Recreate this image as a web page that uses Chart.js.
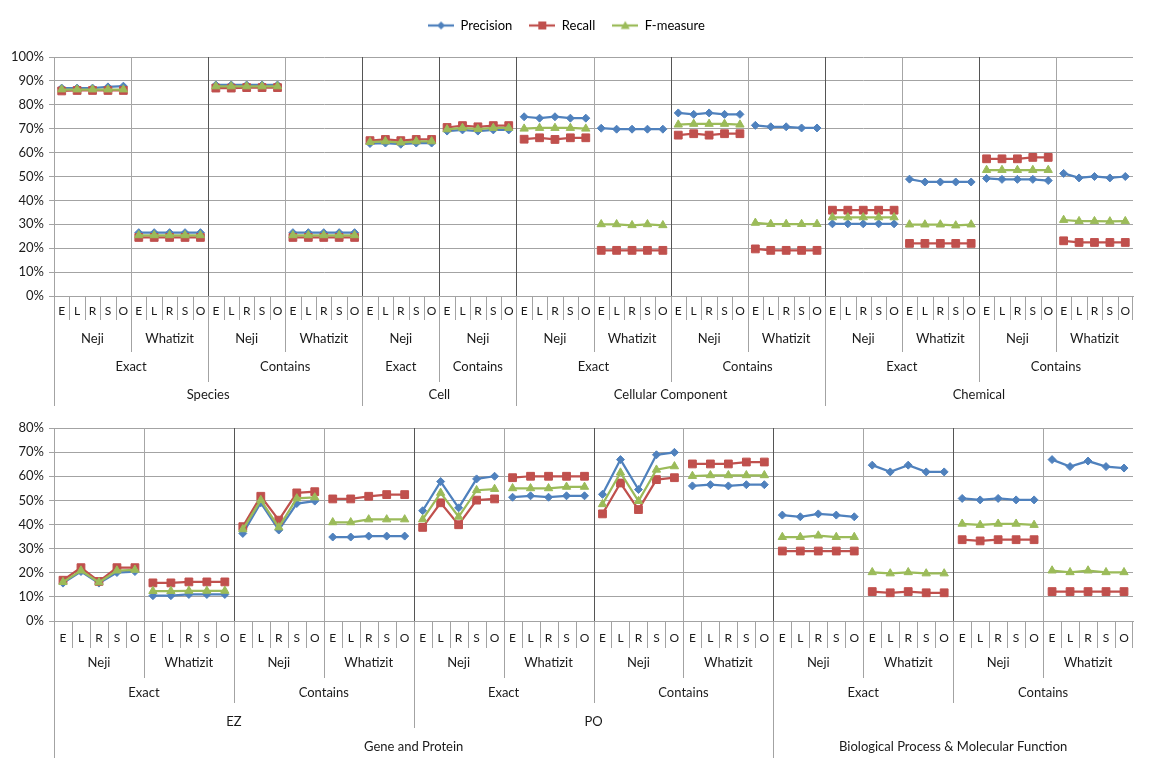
<!DOCTYPE html>
<html lang="en">
<head>
<meta charset="UTF-8">
<title>Neji vs Whatizit - Precision / Recall / F-measure</title>
<script src="https://cdn.jsdelivr.net/npm/chart.js"></script>
<style>
    body { margin: 0; background: #fff; }
    #wrap { position: relative; width: 1151px; height: 762px; }
    #wrap canvas { position: absolute; left: 0; }
    #topChart { top: 0; }
    #bottomChart { top: 410px; }
</style>
</head>
<body>
<div id="wrap">
    <canvas id="topChart" width="1151" height="410"></canvas>
    <canvas id="bottomChart" width="1151" height="352"></canvas>
</div>

<script>
    // category letters, repeated inside every group of five
    const letters = ['E', 'L', 'R', 'S', 'O'];

    // ---- top panel: 14 groups of 5 ----
    const topTools = ['Neji', 'Whatizit', 'Neji', 'Whatizit', 'Neji', 'Neji', 'Neji', 'Whatizit',
                      'Neji', 'Whatizit', 'Neji', 'Whatizit', 'Neji', 'Whatizit'];
    const topMatching = ['Exact', 'Contains', 'Exact', 'Contains', 'Exact', 'Contains', 'Exact', 'Contains'];
    const topMatchingGroups = [2, 2, 1, 1, 2, 2, 2, 2];
    const topEntity = ['Species', 'Cell', 'Cellular Component', 'Chemical'];
    const topEntityGroups = [4, 2, 4, 4];
    const topTicks = [0, 10, 20, 30, 40, 50, 60, 70, 80, 90, 100];

    const topPrecision = [
        87, 87, 87, 87.5, 87.8,        26.5, 26.5, 26.5, 26.5, 26.5,   // Species exact
        88.3, 88.3, 88.3, 88.3, 88.3,  26.5, 26.5, 26.5, 26.5, 26.5,   // Species contains
        63.8, 64, 63.5, 64, 64,        69, 69.5, 69, 69.5, 69.5,       // Cell
        75, 74.4, 75, 74.4, 74.4,      70.2, 69.8, 69.8, 69.8, 69.8,   // Cellular Component exact
        76.6, 76, 76.6, 76, 76,        71.4, 70.8, 70.8, 70.3, 70.3,   // Cellular Component contains
        30.2, 30.2, 30.2, 30.2, 30.2,  48.9, 47.7, 47.7, 47.7, 47.7,   // Chemical exact
        49.2, 48.8, 48.8, 48.8, 48.3,  51.3, 49.4, 50, 49.4, 50        // Chemical contains
    ];
    const topRecall = [
        85.8, 86, 86, 86, 86,          24.5, 24.5, 24.5, 24.5, 24.5,
        87, 87, 87.2, 87.2, 87.2,      24.5, 24.5, 24.5, 24.5, 24.5,
        65, 65.5, 65, 65.5, 65.5,      70.5, 71.3, 70.8, 71.3, 71.3,
        65.6, 66.2, 65.5, 66.2, 66.2,  19.1, 19.1, 19.1, 19.1, 19.1,
        67.3, 67.9, 67.3, 67.9, 67.9,  19.7, 19.1, 19.1, 19.1, 19.1,
        35.9, 35.9, 35.9, 35.9, 35.9,  22, 22, 22, 22, 22,
        57.4, 57.4, 57.4, 58, 58,      23.1, 22.4, 22.4, 22.4, 22.4
    ];
    const topFmeasure = [
        86.4, 86.4, 86.4, 86.4, 86.4,  25.4, 25.4, 25.4, 25.4, 25.4,
        87.7, 87.7, 87.7, 87.7, 87.7,  25.4, 25.4, 25.4, 25.4, 25.4,
        64.4, 64.7, 64.2, 64.7, 64.7,  69.7, 70.3, 69.8, 70.3, 70.3,
        70, 70.3, 70.3, 70.3, 70,      30, 30, 29.6, 30, 29.6,
        71.7, 72, 72, 72, 71.7,        30.6, 30.1, 30.1, 30.1, 30.1,
        32.9, 32.9, 32.9, 32.9, 32.9,  29.9, 29.9, 29.9, 29.5, 29.9,
        52.7, 52.7, 52.7, 52.7, 52.7,  31.8, 31.3, 31.3, 31.2, 31.3
    ];

    // ---- bottom panel: 12 groups of 5 ----
    const bottomTools = ['Neji', 'Whatizit', 'Neji', 'Whatizit', 'Neji', 'Whatizit',
                         'Neji', 'Whatizit', 'Neji', 'Whatizit', 'Neji', 'Whatizit'];
    const bottomMatching = ['Exact', 'Contains', 'Exact', 'Contains', 'Exact', 'Contains'];
    const bottomMatchingGroups = [2, 2, 2, 2, 2, 2];
    const bottomSource = ['EZ', 'PO', ''];
    const bottomSourceGroups = [4, 4, 4];
    const bottomEntity = ['Gene and Protein', 'Biological Process & Molecular Function'];
    const bottomEntityGroups = [8, 4];
    const bottomTicks = [0, 10, 20, 30, 40, 50, 60, 70, 80];

    const bottomPrecision = [
        15.7, 20.5, 15.7, 20.1, 20.5,  10.5, 10.5, 11, 11, 11,         // EZ exact
        36.3, 49, 37.7, 48.7, 49.7,    34.8, 34.8, 35.2, 35.2, 35.2,   // EZ contains
        45.7, 57.8, 46.9, 58.9, 60,    51.3, 51.9, 51.3, 51.9, 51.9,   // PO exact
        52.5, 66.9, 54.5, 68.9, 69.9,  56, 56.5, 56, 56.5, 56.5,       // PO contains
        43.9, 43.2, 44.4, 43.9, 43.2,  64.6, 61.8, 64.6, 61.8, 61.8,   // BP & MF exact
        50.8, 50.2, 50.8, 50.2, 50.2,  66.9, 64, 66.3, 64, 63.4        // BP & MF contains
    ];
    const bottomRecall = [
        16.9, 22.1, 16.4, 22.1, 22.1,  15.8, 15.8, 16.2, 16.2, 16.2,
        39.1, 51.7, 41.8, 53.1, 53.6,  50.6, 50.6, 51.7, 52.4, 52.4,
        38.8, 49, 39.9, 50.1, 50.6,    59.4, 60, 60, 60, 60,
        44.4, 57.2, 46.2, 58.6, 59.4,  65.1, 65.1, 65.1, 65.9, 65.9,
        29, 29, 29, 29, 29,            12.2, 11.7, 12.2, 11.7, 11.7,
        33.7, 33.2, 33.7, 33.7, 33.7,  12.2, 12.2, 12.2, 12.2, 12.2
    ];
    const bottomFmeasure = [
        16.1, 20.9, 16, 20.9, 21.2,    12.4, 12.4, 12.5, 12.5, 12.5,
        38, 50.1, 38.8, 50.8, 51.2,    40.9, 40.9, 42.1, 42.1, 42.1,
        42.1, 53.1, 43.2, 54.2, 54.7,  55, 55, 55, 55.6, 55.6,
        48.4, 61.5, 49.7, 62.7, 64.1,  60.1, 60.4, 60.4, 60.4, 60.4,
        34.8, 34.8, 35.4, 34.8, 34.8,  20.2, 19.7, 20.2, 19.7, 19.7,
        40.3, 39.8, 40.3, 40.3, 39.8,  20.9, 20.2, 20.9, 20.2, 20.2
    ];

    const seriesNames = ['Precision', 'Recall', 'F-measure'];

    const BLUE = '#4f81bd';
    const RED = '#c0504d';
    const GREEN = '#9bbb59';
    const FONT = 'Lato, "Liberation Sans", Arial, sans-serif';
    const TEXT = '#1a1a1a';
    const GRID = '#a3a3a3';

    // build label spans (in category indexes) for the multi-level axis
    function letterItems(n) {
        const out = [];
        for (let i = 0; i < n; i++) out.push({ text: letters[i % 5], from: i, to: i + 1 });
        return out;
    }
    function spanItems(names, groups) {
        const out = [];
        let pos = 0;
        names.forEach((t, i) => {
            const n = (groups ? groups[i] : 1) * 5;
            out.push({ text: t, from: pos, to: pos + n });
            pos += n;
        });
        return out;
    }

    // small line+marker pictures for the legend
    function legendIcon(color, style) {
        const c = document.createElement('canvas');
        c.width = 26; c.height = 12;
        const g = c.getContext('2d');
        g.strokeStyle = color; g.fillStyle = color; g.lineWidth = 2.25;
        g.beginPath(); g.moveTo(0, 6); g.lineTo(26, 6); g.stroke();
        g.beginPath();
        if (style === 'rectRot') {
            g.moveTo(13, 2); g.lineTo(17, 6); g.lineTo(13, 10); g.lineTo(9, 6);
        } else if (style === 'rect') {
            g.rect(9, 2, 8, 8);
        } else {
            g.moveTo(13, 1.5); g.lineTo(17.5, 9.5); g.lineTo(8.5, 9.5);
        }
        g.closePath(); g.fill();
        return c;
    }

    function series(label, data, color, style, radius, order) {
        return {
            label: label,
            data: data,
            order: order,
            borderColor: color,
            backgroundColor: color,
            borderWidth: 2.25,
            pointStyle: style,
            pointRadius: radius,
            pointHoverRadius: radius,
            pointBorderWidth: 1,
            tension: 0,
            // no line between two neighbouring groups
            segment: { borderColor: c => (c.p0DataIndex % 5 === 4 ? 'rgba(0,0,0,0)' : undefined) }
        };
    }

    function edgeX(chart, i) {
        const x = chart.scales.x;
        const step = x.getPixelForValue(1) - x.getPixelForValue(0);
        return x.getPixelForValue(i) - step / 2;
    }
    function vline(ctx, x, y1, y2, color) {
        const px = Math.round(x) + 0.5;
        ctx.strokeStyle = color;
        ctx.lineWidth = 1;
        ctx.beginPath(); ctx.moveTo(px, y1); ctx.lineTo(px, y2); ctx.stroke();
    }

    // multi-level category axis: group lines in the plot and the label rows below it
    const hierarchyAxis = {
        id: 'hierarchyAxis',
        beforeDatasetsDraw(chart, args, opts) {
            const ctx = chart.ctx;
            const { top, bottom } = chart.chartArea;
            ctx.save();
            opts.levels.forEach((lv, k) => {
                if (k === 0) return;
                lv.items.forEach(it => {
                    if (it.from === 0) return;
                    vline(ctx, edgeX(chart, it.from), top, bottom, k === 1 ? '#a6a6a6' : '#555555');
                });
            });
            ctx.restore();
        },
        afterDraw(chart, args, opts) {
            const ctx = chart.ctx;
            const { left, right, bottom } = chart.chartArea;
            const n = chart.scales.x.getLabels().length;
            ctx.save();
            const last = opts.levels[opts.levels.length - 1];
            vline(ctx, left, bottom, bottom + last.sepDy, GRID);
            vline(ctx, right - 1, bottom, bottom + opts.levels[0].sepDy, GRID);
            opts.levels.forEach((lv, k) => {
                ctx.font = (k === 0 ? '12px ' : '13px ') + FONT;
                ctx.fillStyle = TEXT;
                ctx.textAlign = 'center';
                ctx.textBaseline = 'middle';
                lv.items.forEach(it => {
                    if (it.from > 0 && it.from < n) vline(ctx, edgeX(chart, it.from), bottom, bottom + lv.sepDy, GRID);
                    if (it.text) {
                        const cx = (edgeX(chart, it.from) + edgeX(chart, it.to)) / 2;
                        ctx.fillText(it.text, cx, bottom + lv.textDy);
                    }
                });
            });
            ctx.restore();
        }
    };

    // legend needs a fixed height so the plot starts where the original does
    const legendSpace = {
        id: 'legendSpace',
        beforeInit(chart) {
            if (!chart.legend || !chart.options.plugins.legend.display) return;
            const fit = chart.legend.fit;
            chart.legend.fit = function () {
                fit.bind(chart.legend)();
                this.height = 55;
            };
        }
    };

    function makeChart(id, labelsCount, p, r, f, yTicks, levels, showLegend, padding) {
        const icons = [legendIcon(BLUE, 'rectRot'), legendIcon(RED, 'rect'), legendIcon(GREEN, 'triangle')];
        return new Chart(document.getElementById(id), {
            type: 'line',
            data: {
                labels: letterItems(labelsCount).map(it => it.text),
                datasets: [
                    series(seriesNames[0], p, BLUE, 'rectRot', 4, 3),
                    series(seriesNames[1], r, RED, 'rect', 5.5, 2),
                    series(seriesNames[2], f, GREEN, 'triangle', 4.8, 1)
                ]
            },
            options: {
                responsive: false,
                animation: false,
                layout: { padding: padding },
                scales: {
                    x: {
                        offset: true,
                        ticks: { display: false },
                        grid: { display: false, drawTicks: false },
                        border: { display: true, color: GRID }
                    },
                    y: {
                        min: yTicks[0],
                        max: yTicks[yTicks.length - 1],
                        afterBuildTicks: s => { s.ticks = yTicks.map(v => ({ value: v })); },
                        afterFit: s => { s.width = 54; },
                        ticks: {
                            autoSkip: false,
                            callback: v => v + '%',
                            color: TEXT,
                            padding: 5,
                            font: { family: FONT, size: 13 }
                        },
                        grid: { color: GRID, tickLength: 5 },
                        border: { color: GRID }
                    }
                },
                plugins: {
                    legend: {
                        display: showLegend,
                        position: 'top',
                        labels: {
                            usePointStyle: true,
                            pointStyleWidth: 26,
                            padding: 17,
                            color: TEXT,
                            font: { family: FONT, size: 13 },
                            generateLabels: () => seriesNames.map((name, i) => ({
                                text: name,
                                pointStyle: icons[i],
                                fillStyle: 'transparent',
                                strokeStyle: 'transparent',
                                lineWidth: 0,
                                datasetIndex: i
                            }))
                        }
                    },
                    tooltip: { enabled: false },
                    hierarchyAxis: { levels: levels }
                }
            },
            plugins: [hierarchyAxis, legendSpace]
        });
    }

    makeChart('topChart', 70, topPrecision, topRecall, topFmeasure, topTicks, [
        { items: letterItems(70), textDy: 15, sepDy: 24 },
        { items: spanItems(topTools), textDy: 43, sepDy: 56 },
        { items: spanItems(topMatching, topMatchingGroups), textDy: 71, sepDy: 86 },
        { items: spanItems(topEntity, topEntityGroups), textDy: 99, sepDy: 110 }
    ], true, { top: 2, right: 18, bottom: 114, left: 0 });

    makeChart('bottomChart', 60, bottomPrecision, bottomRecall, bottomFmeasure, bottomTicks, [
        { items: letterItems(60), textDy: 17, sepDy: 27 },
        { items: spanItems(bottomTools), textDy: 42, sepDy: 57 },
        { items: spanItems(bottomMatching, bottomMatchingGroups), textDy: 72, sepDy: 82 },
        { items: spanItems(bottomSource, bottomSourceGroups), textDy: 101, sepDy: 107 },
        { items: spanItems(bottomEntity, bottomEntityGroups), textDy: 126, sepDy: 137 }
    ], false, { top: 18, right: 18, bottom: 141, left: 0 });
</script>
</body>
</html>
